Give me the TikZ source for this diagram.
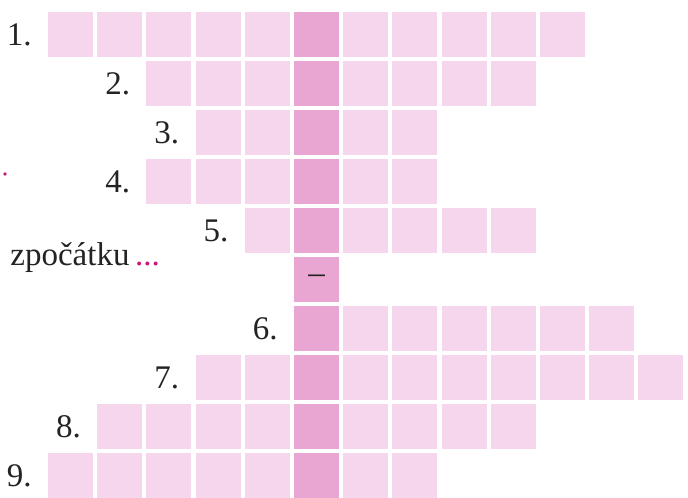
\documentclass[tikz,border=0pt]{standalone}
\usepackage{fontspec}
\setmainfont{Liberation Serif}
\usepackage{xcolor}
\usetikzlibrary{positioning}

\definecolor{cellpink}{RGB}{246,214,236}
\definecolor{keypink}{RGB}{234,166,210}
\definecolor{dotmagenta}{RGB}{205,20,120}
\definecolor{inkgray}{RGB}{35,35,35}

\begin{document}
\begin{tikzpicture}[
    x=0.5pt, y=-0.5pt,
    cell/.style={fill=#1, minimum size=22.5pt, inner sep=0pt, outer sep=0pt},
    num/.style={font=\fontsize{16.5}{19}\selectfont, text=inkgray, inner sep=0pt}
]
    \useasboundingbox (0,0) rectangle (688,497);

    % rows: index / first column / last column / label
    \foreach \k/\first/\last/\lab in {0/0/10/1., 1/2/9/2., 2/3/7/3., 3/2/7/4., 4/4/9/5.,
                                      6/5/11/6., 7/3/12/7., 8/1/9/8., 9/0/7/9.}{
        \foreach \j in {\first,...,\last}{
            \ifnum\j=5 \def\cellcol{keypink}\else\def\cellcol{cellpink}\fi
            \node[cell=\cellcol] (c\k-\j) at ({70.5+49.2*\j},{34.5+49*\k}) {};
        }
        \node[num, left=8pt of c\k-\first] (n\k) {\lab};
    }

    % the row with only the key cell
    \node[cell=keypink, num] (c5-5) at ({70.5+49.2*5},{34.5+49*5}) {--};

    \node[num, anchor=base west] (hint) at (10,265) {zpočátku\,\textcolor{dotmagenta}{...}};
    \node[circle, fill=dotmagenta, inner sep=0pt, minimum size=1.8pt] (dot) at (5,174) {};
\end{tikzpicture}
\end{document}
